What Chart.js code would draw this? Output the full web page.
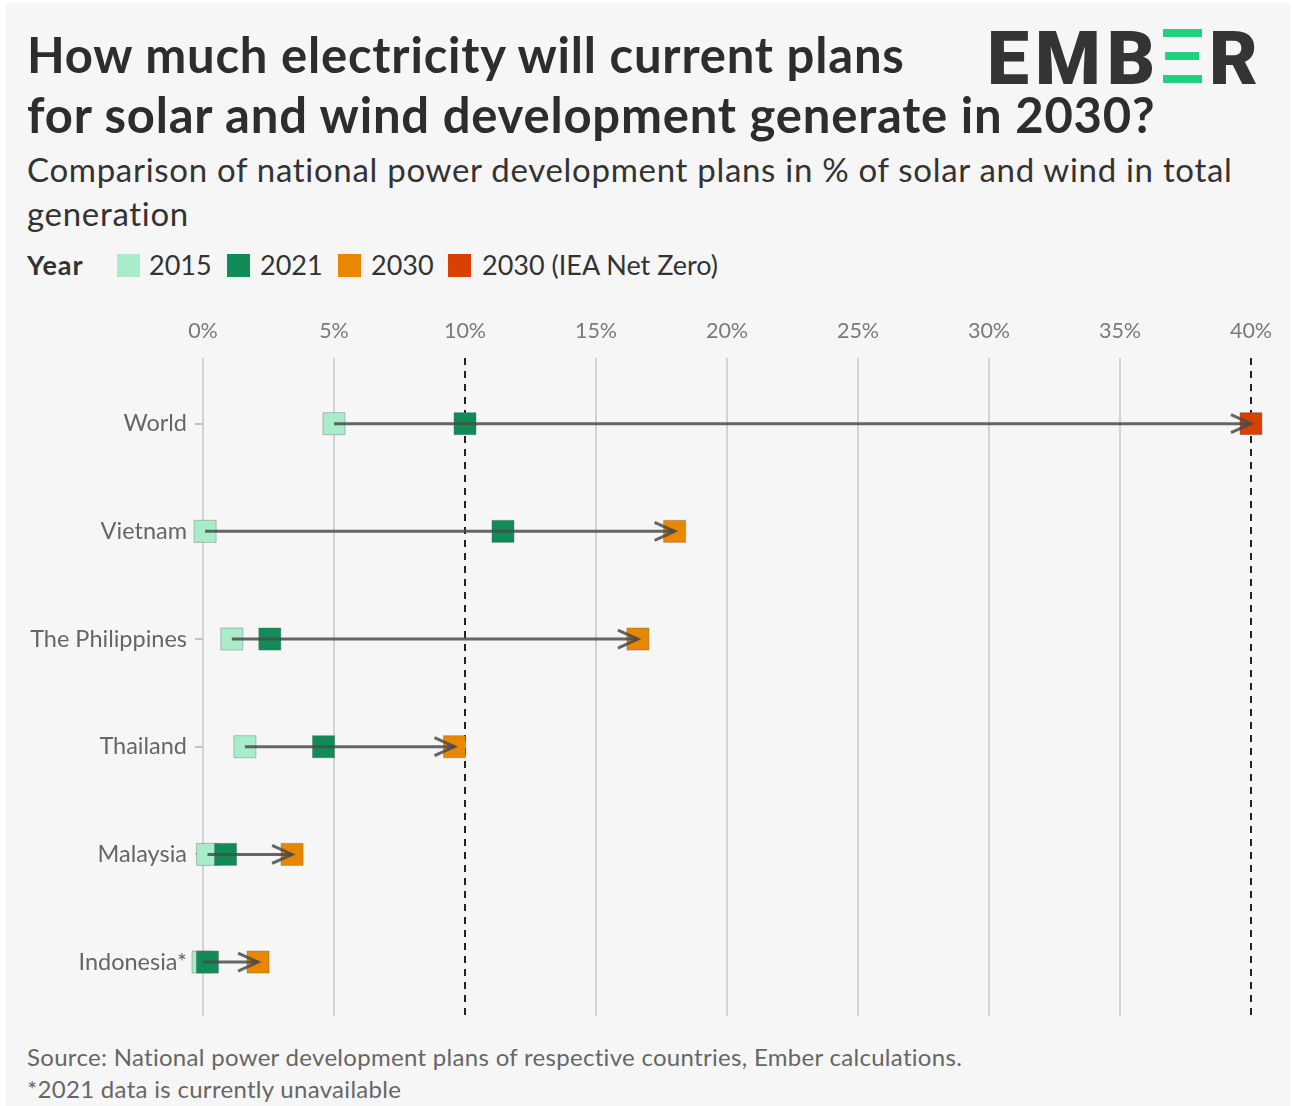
<!DOCTYPE html>
<html>
<head>
<meta charset="utf-8">
<script src="https://cdn.jsdelivr.net/npm/chart.js@4.4.1/dist/chart.umd.min.js"></script>
<style>
    html, body { margin: 0; padding: 0; background: #fff; }
    body { width: 1292px; height: 1106px; position: relative; overflow: hidden; font-family: 'Lato', sans-serif; }
    .panel { position: absolute; left: 6px; top: 3px; width: 1284px; height: 1103px; background: #f6f6f6; }
    .title { position: absolute; left: 27px; top: 24px; font-size: 49px; letter-spacing: 0.8px; font-weight: 700; line-height: 60px; color: #2d2d2d; margin: 0; white-space: nowrap; }
    .subtitle { position: absolute; left: 27px; top: 147px; width: 1240px; font-size: 33px; letter-spacing: 0.7px; line-height: 44px; color: #333; }
    .legend { position: absolute; left: 27px; top: 248px; height: 34px; font-size: 27px; color: #333; white-space: nowrap; }
    .legend .head { position: absolute; left: 0; top: 0; font-weight: 700; letter-spacing: 1px; }
    .legend .sw { position: absolute; top: 6px; width: 23px; height: 23px; }
    .legend .lb { position: absolute; top: 0; }
    .logo { position: absolute; left: 987px; top: 14px; height: 80px; font-family: 'Roboto', sans-serif; font-weight: 900; font-size: 75px; color: #343434; }
    .logo span { position: absolute; top: 0; }
    .logo .bar { position: absolute; background: #1fd27f; height: 8px; }
    .chartbox { position: absolute; left: 0; top: 300px; width: 1292px; height: 738px; }
    .foot { position: absolute; left: 27px; font-size: 24px; letter-spacing: 0.3px; color: #666; white-space: nowrap; }
</style>
</head>
<body>
<div class="panel"></div>
<div class="title">How much electricity will current plans<br>for solar and wind development generate in 2030?</div>
<div class="subtitle">Comparison of national power development plans in % of solar and wind in total generation</div>
<div class="legend" id="legend"><span class="head">Year</span></div>
<div class="logo">
    <span style="left:0; letter-spacing:6px">EMB</span>
    <div class="bar" style="left:176px; top:15px; width:39px;"></div>
    <div class="bar" style="left:178px; top:38px; width:34px;"></div>
    <div class="bar" style="left:176px; top:61px; width:39px;"></div>
    <span style="left:222px">R</span>
</div>
<div class="chartbox"><canvas id="chart"></canvas></div>
<div class="foot" style="top:1042px">Source: National power development plans of respective countries, Ember calculations.</div>
<div class="foot" style="top:1074px">*2021 data is currently unavailable</div>

<script>
const countries = ['World', 'Vietnam', 'The Philippines', 'Thailand', 'Malaysia', 'Indonesia*'];
const share2015 = [5.0, 0.08, 1.1, 1.6, 0.17, 0.0];
const share2021 = [10.0, 11.45, 2.55, 4.6, 0.86, 0.17];
const share2030 = [null, 18.0, 16.6, 9.6, 3.4, 2.1];
const shareNetZero = [40.0, null, null, null, null, null];
const xTicks = [0, 5, 10, 15, 20, 25, 30, 35, 40];
const refLines = [10, 40];

const seriesNames = ['2015', '2021', '2030', '2030 (IEA Net Zero)'];
const seriesColors = ['#a9ecc9', '#118b58', '#e98800', '#d94100'];
const seriesValues = [share2015, share2021, share2030, shareNetZero];

// legend
const legend = document.getElementById('legend');
const swLeft = [90, 200, 311, 421];
const lbLeft = [122, 233, 344, 455];
seriesNames.forEach(function (name, i) {
    const sw = document.createElement('div');
    sw.className = 'sw';
    sw.style.left = swLeft[i] + 'px';
    sw.style.background = seriesColors[i];
    legend.appendChild(sw);
    const lb = document.createElement('span');
    lb.className = 'lb';
    lb.style.left = lbLeft[i] + 'px';
    lb.textContent = name;
    legend.appendChild(lb);
});

function toPoints(values) {
    const pts = [];
    values.forEach(function (v, i) {
        if (v !== null) pts.push({ x: v, y: i });
    });
    return pts;
}

const refLinePlugin = {
    id: 'refLines',
    beforeDatasetsDraw: function (chart) {
        const ctx = chart.ctx;
        const area = chart.chartArea;
        const xs = chart.scales.x;
        ctx.save();
        ctx.strokeStyle = '#222';
        ctx.lineWidth = 2;
        ctx.setLineDash([7, 6]);
        refLines.forEach(function (v) {
            const px = Math.round(xs.getPixelForValue(v));
            ctx.beginPath();
            ctx.moveTo(px, area.top);
            ctx.lineTo(px, area.bottom);
            ctx.stroke();
        });
        ctx.restore();
    }
};

const arrowPlugin = {
    id: 'arrows',
    afterDatasetsDraw: function (chart) {
        const ctx = chart.ctx;
        const xs = chart.scales.x;
        const ys = chart.scales.y;
        ctx.save();
        ctx.strokeStyle = 'rgba(75, 75, 75, 0.85)';
        ctx.lineWidth = 3;
        ctx.lineCap = 'butt';
        countries.forEach(function (c, i) {
            const start = share2015[i];
            const end = share2030[i] !== null ? share2030[i] : shareNetZero[i];
            if (start === null || end === null) return;
            const x0 = xs.getPixelForValue(start);
            const x1 = xs.getPixelForValue(end);
            const y = ys.getPixelForValue(i);
            ctx.beginPath();
            ctx.moveTo(x0, y);
            ctx.lineTo(x1, y);
            ctx.stroke();
            ctx.beginPath();
            ctx.moveTo(x1 - 20, y - 9);
            ctx.lineTo(x1, y);
            ctx.lineTo(x1 - 20, y + 9);
            ctx.stroke();
        });
        ctx.restore();
    }
};

new Chart(document.getElementById('chart'), {
    type: 'scatter',
    data: {
        datasets: seriesValues.map(function (vals, i) {
            return {
                label: seriesNames[i],
                data: toPoints(vals),
                order: seriesValues.length - i,
                clip: false,
                pointStyle: 'rect',
                pointRadius: 15.6,
                pointHoverRadius: 15.6,
                backgroundColor: seriesColors[i],
                borderColor: 'rgba(90, 90, 90, 0.35)',
                borderWidth: 1
            };
        })
    },
    options: {
        responsive: true,
        maintainAspectRatio: false,
        animation: false,
        events: [],
        layout: { padding: { left: 0, right: 41, top: 0, bottom: 0 } },
        plugins: {
            legend: { display: false },
            tooltip: { enabled: false }
        },
        scales: {
            x: {
                type: 'linear',
                position: 'top',
                min: 0,
                max: 40,
                afterBuildTicks: function (scale) {
                    scale.ticks = xTicks.map(function (v) { return { value: v }; });
                },
                afterFit: function (scale) { scale.height = 58; },
                ticks: {
                    color: '#7a7a7a',
                    font: { family: 'Lato', size: 21.5 },
                    padding: 14,
                    maxRotation: 0,
                    callback: function (v) { return v + '%'; }
                },
                grid: {
                    drawTicks: false,
                    lineWidth: 2,
                    color: function (ctx) {
                        return refLines.indexOf(ctx.tick && ctx.tick.value) >= 0 ? 'rgba(0,0,0,0)' : '#d3d3d3';
                    }
                },
                border: { display: false }
            },
            y: {
                type: 'linear',
                reverse: true,
                min: -0.61,
                max: 5.5,
                afterBuildTicks: function (scale) {
                    scale.ticks = countries.map(function (c, i) { return { value: i }; });
                },
                afterFit: function (scale) { scale.width = 203; },
                ticks: {
                    color: '#666',
                    font: { family: 'Lato', size: 23.5 },
                    padding: 8,
                    callback: function (v) { return countries[v]; }
                },
                grid: {
                    drawOnChartArea: false,
                    drawTicks: true,
                    tickLength: 8,
                    color: '#c4c4c4',
                    lineWidth: 2
                },
                border: { display: false }
            }
        }
    },
    plugins: [refLinePlugin, arrowPlugin]
});
</script>
</body>
</html>
